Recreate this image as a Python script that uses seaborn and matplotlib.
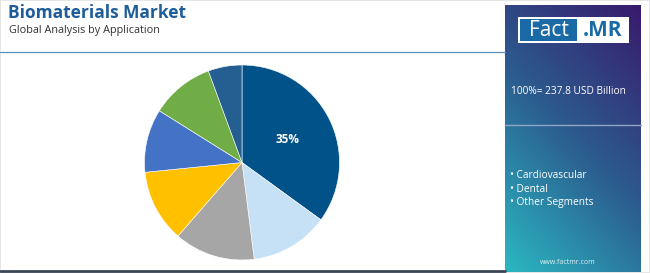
import numpy as np
import matplotlib.pyplot as plt
import seaborn as sns
from matplotlib.patches import Rectangle
from matplotlib.lines import Line2D

# data
segments = ["Cardiovascular", "Dental", "Segment 3", "Segment 4", "Segment 5", "Segment 6", "Other Segments"]
shares = [35.0, 13.0, 13.4, 12.0, 10.5, 10.5, 5.6]
slice_colors = ["#02528a", "#c6e1f5", "#a6a6a6", "#ffc000", "#4472c4", "#70ad47", "#255e91"]
legend_labels = ["Cardiovascular", "Dental", "Other Segments"]
total_label = "100%= 237.8 USD Billion"

sns.set_theme(style="white")
plt.rcParams["font.family"] = ["Open Sans", "DejaVu Sans"]

W, H = 650, 273
fig = plt.figure(figsize=(W / 100, H / 100), dpi=100)
fig.patch.set_facecolor("white")

def fx(x):
    return x / W

def fy(y):
    return 1 - y / H

# title block
fig.text(fx(8), fy(13), "Biomaterials Market", fontsize=12.5, fontweight="bold",
         color="#1d5d99", va="center", ha="left")
fig.text(fx(9), fy(31), "Global Analysis by Application", fontsize=7.8,
         color="#333333", va="center", ha="left")

# rules
fig.add_artist(Line2D([0, fx(505)], [fy(52), fy(52)], color="#5b8cc0", lw=0.9))
fig.add_artist(Line2D([0, fx(505)], [fy(270.5), fy(270.5)], color="#3c4656", lw=2))
fig.add_artist(Rectangle((0, 0), 1, 1, transform=fig.transFigure, fill=False,
                         edgecolor="#e2e2e2", lw=1.2))

# pie
cx, cy, r = 242, 162.5, 97.5
ax = fig.add_axes([fx(cx - r), fy(cy + r), 2 * r / W, 2 * r / H])
wedges, texts, autotexts = ax.pie(
    shares, colors=slice_colors, startangle=90, counterclock=False,
    autopct=lambda p: f"{p:.0f}%" if p > 30 else "", pctdistance=0.53,
    wedgeprops=dict(edgecolor="white", linewidth=0.4),
    textprops=dict(color="white", fontsize=8.5, fontweight="bold"))
ax.set_xlim(-1, 1)
ax.set_ylim(-1, 1)
ax.set_aspect("auto")
ax.axis("off")

# right panel with gradient
px0, px1, py0, py1 = 505, 641, 5, 272
pax = fig.add_axes([fx(px0), fy(py1), (px1 - px0) / W, (py1 - py0) / H])
gx, gy = np.meshgrid(np.linspace(0, 1, 120), np.linspace(0, 1, 240))
t = np.clip(0.65 * gy + 0.35 * gx, 0, 1)  # 0 at bottom-left, 1 at top-right
c_bot = np.array([0x2b, 0xb8, 0xc2]) / 255
c_mid = np.array([0x2c, 0x5c, 0x8f]) / 255
c_top = np.array([0x38, 0x1a, 0x6c]) / 255
t3 = t[..., None]
img = np.where(t3 < 0.5, c_bot + (c_mid - c_bot) * (t3 / 0.5),
               c_mid + (c_top - c_mid) * ((t3 - 0.5) / 0.5))
pax.imshow(img, origin="lower", aspect="auto", extent=[0, 1, 0, 1])
pax.set_xlim(0, 1)
pax.set_ylim(0, 1)
pax.axis("off")

# logo
fig.add_artist(Rectangle((fx(518), fy(43)), fx(629) - fx(518), fy(17) - fy(43),
                         transform=fig.transFigure, facecolor="white", edgecolor="none"))
fig.add_artist(Rectangle((fx(520), fy(41)), fx(577) - fx(520), fy(19) - fy(41),
                         transform=fig.transFigure, facecolor="#1a6aa6", edgecolor="none"))
fig.text(fx(548.5), fy(30), "Fact", fontsize=15, color="white", ha="center", va="center")
fig.text(fx(602), fy(30), ".MR", fontsize=15, color="#1a6aa6", fontweight="bold",
         ha="center", va="center")

fig.text(fx(511), fy(92), total_label, fontsize=7.3, color="white", ha="left", va="center")
fig.add_artist(Line2D([fx(505), fx(641)], [fy(125), fy(125)], color="#8fa6c8", lw=1))

for i, lab in enumerate(legend_labels):
    fig.text(fx(510), fy(176 + 13.5 * i), "\u2022 " + lab, fontsize=7.3, color="white",
             ha="left", va="center")

fig.text(fx(568), fy(263), "www.factmr.com", fontsize=5, color="#e0eef5", ha="center", va="center")

fig.savefig("out.png", dpi=100)
